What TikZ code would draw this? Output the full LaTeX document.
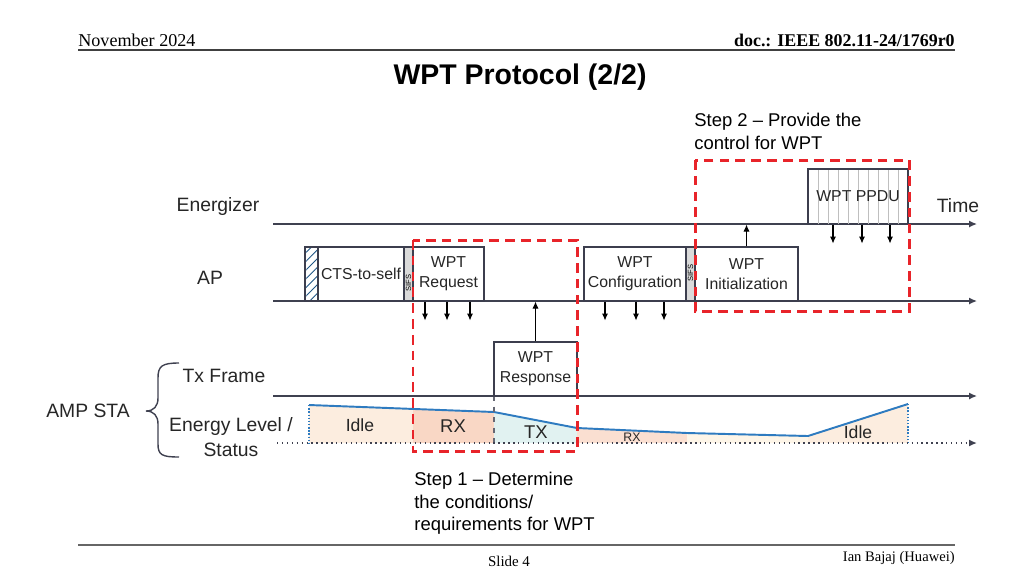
\documentclass[tikz,border=0pt]{standalone}
\usepackage{fontspec}
\setmainfont{Liberation Serif}
\newfontfamily\arialf{Liberation Sans}
\usetikzlibrary{arrows.meta,patterns.meta,calc}
\definecolor{axis}{HTML}{3F4150}
\definecolor{boxc}{HTML}{3C3E4E}
\definecolor{redd}{HTML}{E8242A}
\definecolor{bluel}{HTML}{2E7BC0}
\definecolor{idlef}{HTML}{FCEDDF}
\definecolor{rxf}{HTML}{F9D7C5}
\definecolor{txf}{HTML}{E1F2F1}
\definecolor{midf}{HTML}{FDF5E8}
\definecolor{sifsf}{HTML}{DADADA}
\definecolor{txtc}{HTML}{262626}
\tikzset{
  pbox/.style 2 args={draw=boxc, line width=0.6pt, fill=white, minimum width=#1*0.02cm, minimum height=#2*0.02cm, inner sep=0pt, align=center, font=\arialf\fontsize{9}{11.3}\selectfont, text=txtc},
  sifsbox/.style={draw=boxc, line width=0.6pt, fill=sifsf, minimum width=9*0.02cm, minimum height=54*0.02cm, inner sep=0pt},
  axisline/.style={draw=axis, line width=0.8pt, -{Latex[length=4.5pt,width=4pt]}},
  arr/.style={draw=black, line width=0.6pt, -{Latex[length=4pt,width=3.5pt]}},
  lbl/.style={font=\arialf\fontsize{11}{13}\selectfont, text=txtc, inner sep=0pt},
  elbl/.style={font=\arialf\fontsize{10}{12}\selectfont, text=txtc, inner sep=0pt},
  reddash/.style={draw=redd, line width=1.7pt, dash pattern=on 5.5pt off 3.5pt},
  steptext/.style={font=\arialf\fontsize{10.5}{12.8}\selectfont, align=left, inner sep=0pt, anchor=north west},
}
\begin{document}
\begin{tikzpicture}[x=0.02cm,y=-0.02cm]
\useasboundingbox (0,0) rectangle (1024,576);
% header
\node[anchor=base west, inner sep=0pt, font=\fontsize{10.3}{12}\selectfont] (hdl) at (78,46) {November 2024};
\node[anchor=base east, inner sep=0pt, font=\bfseries\fontsize{10.2}{12}\selectfont] (hdr) at (955,46) {doc.: IEEE 802.11-24/1769r0};
\coordinate (hl1) at (78,50); \coordinate (hl2) at (955,50);
\draw[line width=0.9pt, black!75] (hl1) -- (hl2);
\node[font=\arialf\bfseries\fontsize{16.2}{19}\selectfont, inner sep=0pt] (title) at (520,77) {WPT Protocol (2/2)};
% footer
\coordinate (fl1) at (78,545); \coordinate (fl2) at (955,545);
\draw[line width=0.9pt, black!60] (fl1) -- (fl2);
\node[anchor=base, inner sep=0pt, font=\fontsize{8.5}{10}\selectfont] (slide) at (509,566) {Slide 4};
\node[anchor=base east, inner sep=0pt, font=\fontsize{8.3}{10}\selectfont] (auth) at (955,561) {Ian Bajaj (Huawei)};

% energy fills
\fill[idlef] (309,405) -- (413,409) -- (413,443) -- (309,443) -- cycle;
\fill[rxf] (413,409) -- (494,412) -- (494,443) -- (413,443) -- cycle;
\fill[txf] (494,412) -- (577,428) -- (577,443) -- (494,443) -- cycle;
\fill[rxf!80] (577,428) -- (687,433) -- (687,443) -- (577,443) -- cycle;
\fill[midf] (687,433) -- (808,436) -- (808,443) -- (687,443) -- cycle;
\fill[idlef] (808,436) -- (908,404) -- (908,443) -- (808,443) -- cycle;
\draw[bluel, line width=1.1pt] (309,405) -- (494,412) -- (577,428) -- (687,433) -- (808,436) -- (908,404);
\draw[bluel, line width=0.8pt, densely dotted] (309,405) -- (309,443);
\draw[bluel, line width=0.8pt, densely dotted] (908,404) -- (908,443);
\draw[axis!80, line width=0.6pt, dashed] (494,396) -- (494,443);
\node[elbl] (idle1) at (360,425) {Idle};
\node[elbl, font=\arialf\fontsize{10.5}{12}\selectfont] (rx1) at (453,426) {RX};
\node[elbl, font=\arialf\fontsize{10.5}{12}\selectfont] (tx1) at (536,432) {TX};
\node[elbl, font=\arialf\fontsize{7}{8}\selectfont] (rx2) at (632,437) {RX};
\node[elbl] (idle2) at (858,432) {Idle};

% timelines
\coordinate (eS) at (273,224); \coordinate (eE) at (977,224);
\coordinate (aS) at (273,301); \coordinate (aE) at (977,301);
\coordinate (tS) at (273,396); \coordinate (tE) at (977,396);
\coordinate (lS) at (277,443); \coordinate (lE) at (977,443);
\draw[axisline] (eS) -- (eE);
\draw[axisline] (aS) -- (aE);
\draw[axisline] (tS) -- (tE);
\draw[axisline, dotted, line width=0.9pt] (lS) -- (lE);

% labels
\node[lbl] (energ) at (218,206) {Energizer};
\node[lbl] (ap) at (210,278) {AP};
\node[lbl] (time) at (958,206) {Time};
\node[lbl] (txfr) at (224,376) {Tx Frame};
\node[lbl] (enl) at (231,426) {Energy Level /};
\node[lbl] (stat) at (231,450) {Status};
\node[lbl] (amp) at (88,411) {AMP STA};
\draw[axis, line width=0.8pt] (179,363) .. controls (162,363) and (158,366) .. (158,378) -- (158,398) .. controls (158,406) and (154,411) .. (146,411) .. controls (154,411) and (158,416) .. (158,424) -- (158,444) .. controls (158,455) and (162,457) .. (179,457);

% AP boxes
\node[draw=boxc, line width=0.6pt, minimum width=13*0.02cm, minimum height=54*0.02cm, inner sep=0pt, pattern={Lines[angle=45,distance=3.5pt,line width=0.5pt]}, pattern color=bluel!70!black] (hatch) at (311.5,274) {};
\node[pbox={86}{54}] (cts) at (361,274) {CTS-to-self};
\node[sifsbox] (sifs1) at (408.5,274) {};
\node[rotate=90, font=\arialf\fontsize{4.3}{5}\selectfont, inner sep=0pt] (sifs1t) at (408.5,283) {SIFS};
\node[pbox={71}{54}] (req) at (448.5,274) {WPT\\Request};
\node[pbox={102}{54}] (conf) at (635,274) {WPT\\Configuration};
\node[sifsbox] (sifs2) at (690.5,274) {};
\node[rotate=90, font=\arialf\fontsize{4.3}{5}\selectfont, inner sep=0pt] (sifs2t) at (690.5,273) {SIFS};
\node[pbox={103}{54}] (init) at (746.5,274) {WPT\\Initialization};
\node[pbox={83}{54}] (resp) at (535.5,369) {WPT\\Response};
% PPDU
\node[pbox={100}{55}] (ppdu) at (858,196.5) {};
\foreach \x in {818,828,...,900} \draw[black!25, line width=0.4pt] (\x,170) -- (\x,223.5);
\node[font=\arialf\fontsize{9}{11}\selectfont, text=txtc, inner sep=1pt] (ppdut) at (858,196.5) {WPT PPDU};

% arrows
\foreach \x in {425,447,470} \draw[arr] (req.south -| \x,0) -- ++(0,19);
\foreach \x in {605,636,664} \draw[arr] (conf.south -| \x,0) -- ++(0,19);
\foreach \x in {833,862,890} \draw[arr] (ppdu.south -| \x,0) -- ++(0,19);
\draw[arr] (resp.north) -- (resp.north |- req.south);
\draw[arr] (init.north) -- (init.north |- ppdu.south);

% red dashed boxes
\coordinate (s1a) at (413,240); \coordinate (s1b) at (577,451);
\coordinate (s2a) at (695,160); \coordinate (s2b) at (909,311);
\draw[reddash] (s1a) rectangle (s1b);
\draw[reddash] (s2a) rectangle (s2b);

% step texts
\node[steptext] (step2) at (694,113) {Step 2 – Provide the\\control for WPT};
\node[steptext] (step1) at (414,472) {Step 1 – Determine\\the conditions/\\requirements for WPT};
\end{tikzpicture}
\end{document}
